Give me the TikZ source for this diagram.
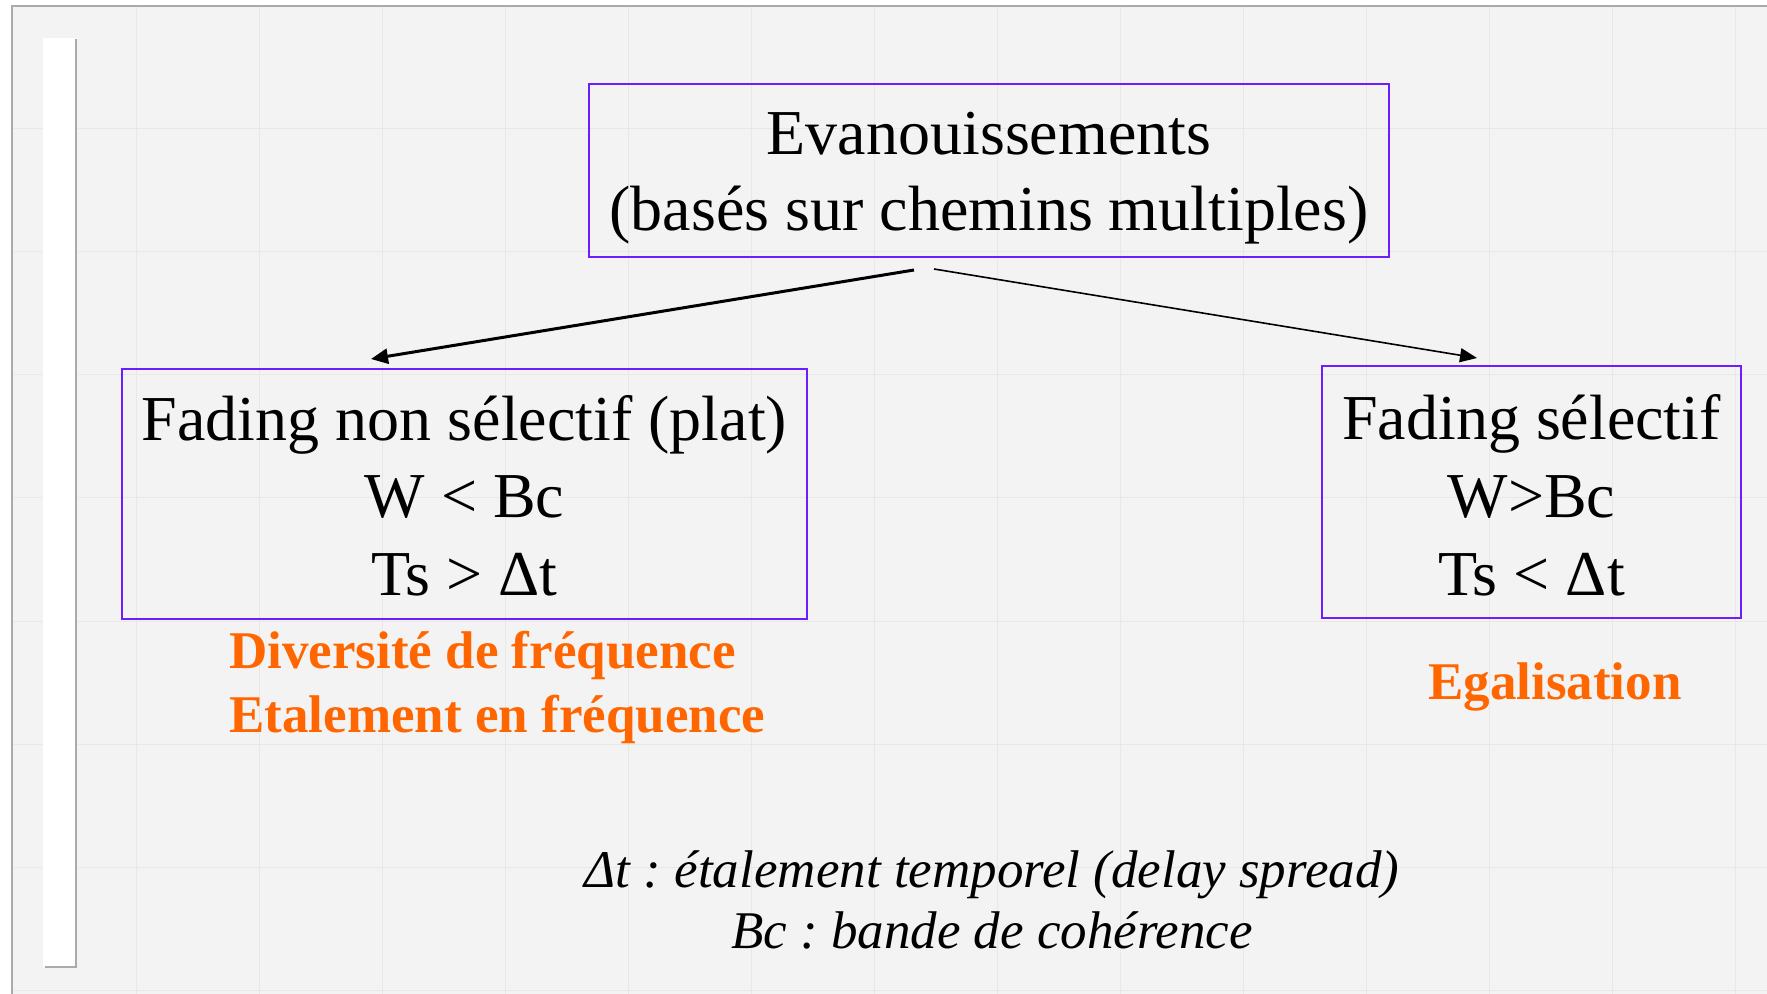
\documentclass[tikz,border=0pt]{standalone}
\usepackage{fontspec}
\setmainfont{Liberation Serif}
\usetikzlibrary{arrows.meta,calc}
\frenchspacing

\definecolor{pagebg}{RGB}{243,243,243}
\definecolor{gridline}{RGB}{232,232,232}
\definecolor{framegray}{RGB}{170,170,170}
\definecolor{boxviolet}{RGB}{108,30,255}
\definecolor{noteorange}{RGB}{255,102,0}

\tikzset{
  framebox/.style={draw=boxviolet, line width=1pt, rectangle, inner sep=0pt},
  bigtext/.style={anchor=base, inner sep=0pt, font=\fontsize{32}{38}\selectfont},
  orangetext/.style={inner sep=0pt, text=noteorange, font=\fontsize{26.5}{32}\selectfont\bfseries},
  notetext/.style={anchor=base, inner sep=0pt, font=\fontsize{26.5}{32}\selectfont\itshape},
  thickarrow/.style={line width=1.5pt, -{Triangle[length=8.5pt,width=7.5pt]}},
  thinarrow/.style={line width=0.8pt, -{Triangle[length=8.5pt,width=7pt]}}
}

\begin{document}
\begin{tikzpicture}[x=0.5pt,y=-0.5pt]
  % page and slide background
  \useasboundingbox (0,0) rectangle (1767,994);
  \fill[white] (0,0) rectangle (1767,994);
  \fill[pagebg] (12,6) rectangle (1767,994);
  % faint background grid
  \foreach \gx in {136,259,...,1767} \draw[gridline, line width=0.5pt] (\gx,7) -- (\gx,994);
  \foreach \gy in {129,252,...,994} \draw[gridline, line width=0.5pt] (13,\gy) -- (1767,\gy);
  % slide frame (top and left edges)
  \draw[framegray, line width=1.2pt] (12,994) -- (12,6) -- (1767,6);
  % white side bar with its shadow
  \fill[white] (43,38) rectangle (76,967);
  \draw[framegray, line width=1pt] (76,39) -- (76,967) -- (45,967);

  % boxes
  \node[framebox, minimum width=400pt, minimum height=86.5pt] (top) at (989,170.5) {};
  \node[framebox, minimum width=342.5pt, minimum height=125pt] (flat) at (464.5,494) {};
  \node[framebox, minimum width=209.5pt, minimum height=126pt] (sel) at (1531.5,492) {};

  % top box text
  \node[bigtext] (t1) at (989,155) {Evanouissements};
  \node[bigtext] (t2) at (989,231) {(basés sur chemins multiples)};

  % flat fading box text
  \node[bigtext] (f1) at (464.5,441) {Fading non sélectif (plat)};
  \node[bigtext] (f2) at (464.5,517) {W < Bc};
  \node[bigtext] (f3) at (464.5,595) {Ts > Δt};

  % selective fading box text
  \node[bigtext] (s1) at (1531.5,440) {Fading sélectif};
  \node[bigtext] (s2) at (1531.5,517) {W>Bc};
  \node[bigtext] (s3) at (1531.5,595) {Ts < Δt};

  % remedies
  \node[orangetext, anchor=base west] (o1) at (229,668) {Diversité de fréquence};
  \node[orangetext, anchor=base west] (o2) at (229,732) {Etalement en fréquence};
  \node[orangetext, anchor=base] (o3) at (1555,699) {Egalisation};

  % definitions
  \node[notetext] (n1) at (992,887) {Δt : étalement temporel (delay spread)};
  \node[notetext] (n2) at (992,948) {Bc : bande de cohérence};

  % arrows from the top box
  \coordinate (la) at ($(top.south)+(-75,12)$);
  \coordinate (lb) at ($(flat.north)+(-93.5,-9)$);
  \coordinate (ra) at ($(top.south)+(-55,11)$);
  \coordinate (rb) at ($(sel.north)+(-54.5,-7)$);
  \draw[thickarrow] (la) -- (lb);
  \draw[thinarrow] (ra) -- (rb);
\end{tikzpicture}
\end{document}
